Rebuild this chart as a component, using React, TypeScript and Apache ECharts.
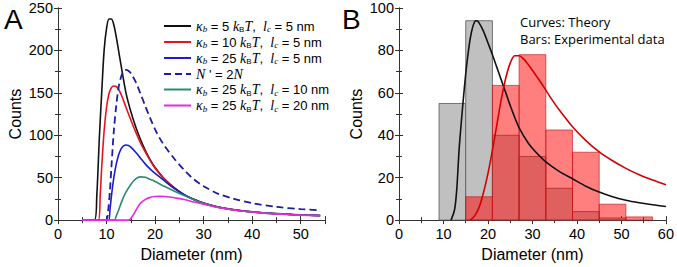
import React, { useEffect, useRef } from "react";
import * as echarts from "echarts";

// ---------- Panel A: theory curves ----------
const aBlackX = [5, 7.5, 8, 8.5, 9, 9.5, 10, 10.5, 11, 11.5, 12, 12.5, 13, 14, 15, 16, 17, 18, 19, 20, 22, 24, 26, 28, 30, 33, 36, 40, 45, 50, 54];
const aBlackY = [0, 0, 30, 95, 150, 200, 226, 237, 237, 230, 216, 199, 182, 150, 128, 110, 95, 82, 71, 62, 48, 38, 30, 24.5, 20, 15.5, 12.5, 9.8, 7.6, 6.2, 5.5];

const aRedX = [5, 8.3, 8.7, 9, 9.5, 10, 10.5, 11, 11.5, 12, 12.5, 13, 13.5, 14, 15, 16, 17, 18, 19, 20, 22, 24, 26, 28, 30, 33, 36, 40, 45, 50, 54];
const aRedY = [0, 0, 30, 62, 105, 133, 149, 156, 158, 157.5, 154, 148, 141, 133, 118, 104, 91, 80, 70, 61, 47.5, 37.5, 29.5, 24, 19.7, 15.3, 12.3, 9.7, 7.5, 6.1, 5.4];

const aBlueX = [5, 10.4, 10.7, 11, 11.5, 12, 12.5, 13, 13.5, 14, 14.5, 15, 16, 17, 18, 19, 20, 22, 24, 26, 28, 30, 33, 36, 40, 45, 50, 54];
const aBlueY = [0, 0, 12, 28, 50, 66, 77, 84, 87.5, 88.5, 88, 86, 80, 73, 66, 60, 55, 46, 37, 30, 24.3, 19.8, 15.2, 12.2, 9.6, 7.4, 6.0, 5.3];

const aDashX = [5, 9.8, 10.3, 10.7, 11, 11.5, 12, 12.5, 13, 13.5, 14, 14.5, 15, 16, 17, 18, 19, 20, 21, 22, 24, 26, 28, 30, 33, 36, 40, 45, 50, 54];
const aDashY = [0, 0, 10, 35, 62, 105, 135, 157, 169, 175, 177, 176, 173, 163, 149, 134, 120, 107, 96, 87, 72, 59, 48, 40, 31, 25.5, 20, 15.5, 13, 11.5];

const aTealX = [5, 11.6, 12, 12.5, 13, 13.5, 14, 15, 16, 17, 18, 19, 20, 22, 24, 26, 28, 30, 33, 36, 40, 45, 50, 54];
const aTealY = [0, 0, 5, 12, 20, 27, 33, 42, 48.5, 51, 50.5, 48, 45.5, 39.5, 34, 29, 24, 19.7, 15.2, 12.2, 9.6, 7.4, 6.0, 5.3];

const aMagX = [5, 14.6, 15, 15.5, 16, 16.5, 17, 18, 19, 20, 21, 22, 23, 24, 26, 28, 30, 33, 36, 40, 45, 50, 54];
const aMagY = [0, 0, 2, 6, 11, 16, 20, 24.5, 26.8, 27.8, 28, 27.8, 27.2, 26.3, 24.2, 21.3, 18.7, 14.8, 12, 9.5, 7.3, 5.9, 5.2];

// ---------- Panel B: histograms (bin start, bin end, count) ----------
const binStarts = [9, 15, 21, 27, 33, 39, 45, 51];
const binEnds = [15, 21, 27, 33, 39, 45, 51, 57];
const grayCounts = [55, 94, 40, 30, 15, 4, 1, 0];
const redCounts = [0, 11, 63.5, 78, 42.5, 32, 7.5, 1.5];

const bBlackX = [11.7, 12.5, 13, 13.5, 14, 14.5, 15, 15.5, 16, 16.5, 17, 17.5, 18, 19, 20, 21, 22, 23, 24, 25, 26, 27, 29, 31, 33, 36, 39, 42, 45, 48, 51, 54, 57, 60];
const bBlackY = [0, 5, 15, 33, 46, 58, 69, 78, 85.5, 90.5, 93.5, 94, 93, 89, 83.5, 78, 72, 66, 60, 54, 48.5, 43.5, 36.5, 31.5, 27.5, 23, 19.5, 16, 13.2, 11, 9.4, 8.2, 7.2, 6.4];

const bRedX = [16, 17, 18, 19, 20, 21, 22, 23, 24, 25, 26, 27, 28, 29, 30, 32, 34, 36, 39, 42, 45, 48, 51, 54, 57, 60];
const bRedY = [0, 2, 6, 13, 22, 33, 45, 57, 67, 74, 77.5, 77.5, 76, 73.5, 70.5, 64.5, 58, 52, 44, 37.5, 32.2, 28, 24.4, 21.4, 18.9, 16.7];

const aXTicks = { min: 0, max: 55, interval: 10 };
const aYTicks = { min: 0, max: 250, interval: 50 };
const bXTicks = { min: 0, max: 60, interval: 10 };
const bYTicks = { min: 0, max: 100, interval: 20 };

const SANS = '"Liberation Sans", Arial, sans-serif';
const SERIF = '"Liberation Serif", "DejaVu Serif", serif';

const pairs = (xs: number[], ys: number[]) => xs.map((x, i) => [x, ys[i]]);

const legendText: Record<string, string> = {
  k5: "{it|κ}{sub|b}{t| = 5 }{it|k}{subr|B}{it|T}{t|,  }{it|l}{sub|c}{t| = 5 nm}",
  k10: "{it|κ}{sub|b}{t| = 10 }{it|k}{subr|B}{it|T}{t|,  }{it|l}{sub|c}{t| = 5 nm}",
  k25: "{it|κ}{sub|b}{t| = 25 }{it|k}{subr|B}{it|T}{t|,  }{it|l}{sub|c}{t| = 5 nm}",
  n2: "{it|N}{t| ' = 2}{it|N}",
  k25l10: "{it|κ}{sub|b}{t| = 25 }{it|k}{subr|B}{it|T}{t|,  }{it|l}{sub|c}{t| = 10 nm}",
  k25l20: "{it|κ}{sub|b}{t| = 25 }{it|k}{subr|B}{it|T}{t|,  }{it|l}{sub|c}{t| = 20 nm}",
};

const AXIS_COLOR = "#333";

function xAx(grid: number, t: any, pos: "bottom" | "top", withLabels: boolean) {
  return {
    type: "value",
    gridIndex: grid,
    position: pos,
    min: t.min,
    max: t.max,
    interval: t.interval,
    axisLine: { show: true, lineStyle: { color: AXIS_COLOR, width: 1 } },
    axisTick: { show: true, inside: true, length: 4, lineStyle: { color: AXIS_COLOR } },
    minorTick: { show: true, splitNumber: 2, length: 3, lineStyle: { color: AXIS_COLOR } },
    splitLine: { show: false },
    axisLabel: {
      show: withLabels,
      showMaxLabel: t.max % t.interval === 0,
      margin: 6,
      color: "#000",
      fontFamily: SANS,
      fontSize: 14.5,
    },
    name: withLabels ? "Diameter (nm)" : "",
    nameLocation: "middle",
    nameGap: 25,
    nameTextStyle: { color: "#000", fontFamily: SANS, fontSize: 16 },
  };
}

function yAx(grid: number, t: any, pos: "left" | "right", withLabels: boolean) {
  return {
    type: "value",
    gridIndex: grid,
    position: pos,
    min: t.min,
    max: t.max,
    interval: t.interval,
    axisLine: { show: true, lineStyle: { color: AXIS_COLOR, width: 1 } },
    axisTick: { show: true, inside: true, length: 4, lineStyle: { color: AXIS_COLOR } },
    minorTick: { show: true, splitNumber: 2, length: 3, lineStyle: { color: AXIS_COLOR } },
    splitLine: { show: false },
    axisLabel: {
      show: withLabels,
      margin: 5,
      color: "#000",
      fontFamily: SANS,
      fontSize: 14.5,
    },
    name: withLabels ? "Counts" : "",
    nameLocation: "middle",
    nameGap: 35,
    nameTextStyle: { color: "#000", fontFamily: SANS, fontSize: 16 },
  };
}

function lineSeries(name: string, xs: number[], ys: number[], color: string, xi: number, dashed = false) {
  return {
    type: "line",
    name,
    xAxisIndex: xi,
    yAxisIndex: xi,
    data: pairs(xs, ys),
    symbol: "none",
    smooth: 0.3,
    lineStyle: { color, width: dashed ? 1.8 : 1.6, type: dashed ? [7, 4] : "solid" },
    itemStyle: { color },
    z: 3,
  };
}

function barSeries(counts: number[], fill: string, stroke: string) {
  return {
    type: "custom",
    xAxisIndex: 2,
    yAxisIndex: 2,
    data: binStarts.map((s, i) => [s, binEnds[i], counts[i]]).filter((d) => d[2] > 0),
    encode: { x: [0, 1], y: 2 },
    renderItem: (params: any, api: any) => {
      const p0 = api.coord([api.value(0), api.value(2)]);
      const p1 = api.coord([api.value(1), 0]);
      return {
        type: "rect",
        shape: { x: p0[0], y: p0[1], width: p1[0] - p0[0], height: p1[1] - p0[1] },
        style: { fill, stroke, lineWidth: 0.8 },
      };
    },
    z: 2,
  };
}

export default function App() {
  const ref = useRef<HTMLDivElement>(null);
  useEffect(() => {
    document.body.style.margin = "0";
    if (!ref.current) return;
    const chart = echarts.init(ref.current, null, { renderer: "svg" });
    chart.setOption({
      animation: false,
      backgroundColor: "#fff",
      grid: [
        { left: 58, top: 8, width: 267, height: 214 },
        { left: 399, top: 8, width: 269, height: 214 },
      ],
      xAxis: [
        xAx(0, aXTicks, "bottom", true),
        xAx(0, aXTicks, "top", false),
        xAx(1, bXTicks, "bottom", true),
        xAx(1, bXTicks, "top", false),
      ],
      yAxis: [
        yAx(0, aYTicks, "left", true),
        yAx(0, aYTicks, "right", false),
        yAx(1, bYTicks, "left", true),
        yAx(1, bYTicks, "right", false),
      ],
      legend: {
        data: ["k5", "k10", "k25", "n2", "k25l10", "k25l20"],
        orient: "vertical",
        left: 163,
        top: 19,
        itemWidth: 27,
        itemHeight: 10,
        itemGap: 1.5,
        padding: 0,
        itemStyle: { opacity: 0 },
        formatter: (name: string) => legendText[name],
        textStyle: {
          color: "#000",
          rich: {
            it: { fontFamily: SERIF, fontStyle: "italic", fontSize: 14, lineHeight: 15, color: "#000" },
            sub: { fontFamily: SERIF, fontStyle: "italic", fontSize: 9, lineHeight: 7, verticalAlign: "bottom", color: "#000" },
            subr: { fontFamily: SANS, fontSize: 8, lineHeight: 7, verticalAlign: "bottom", color: "#000" },
            t: { fontFamily: SANS, fontSize: 13, lineHeight: 15, color: "#000" },
          },
        },
      },
      graphic: [
        { type: "text", left: 4, top: 5, style: { text: "A", fontFamily: SANS, fontSize: 28, fill: "#000" } },
        { type: "text", left: 342, top: 5, style: { text: "B", fontFamily: SANS, fontSize: 28, fill: "#000" } },
        { type: "text", left: 520, top: 15, style: { text: "Curves: Theory", fontFamily: '"Open Sans", sans-serif', fontSize: 13, fill: "#000" } },
        { type: "text", left: 520, top: 32, style: { text: "Bars: Experimental data", fontFamily: '"Open Sans", sans-serif', fontSize: 13, fill: "#000" } },
      ],
      series: [
        lineSeries("k5", aBlackX, aBlackY, "#111111", 0),
        lineSeries("k10", aRedX, aRedY, "#e8141c", 0),
        lineSeries("k25", aBlueX, aBlueY, "#1c1cd0", 0),
        lineSeries("n2", aDashX, aDashY, "#1c1ca8", 0, true),
        lineSeries("k25l10", aTealX, aTealY, "#2a8a72", 0),
        lineSeries("k25l20", aMagX, aMagY, "#e828e0", 0),
        barSeries(grayCounts, "#c0c0c0", "#555555"),
        barSeries(redCounts, "rgba(255,0,0,0.5)", "rgba(200,20,20,0.8)"),
        lineSeries("bBlack", bBlackX, bBlackY, "#111111", 2),
        lineSeries("bRed", bRedX, bRedY, "#d40000", 2),
      ],
    });
    return () => chart.dispose();
  }, []);
  return <div ref={ref} style={{ width: 677, height: 267 }} />;
}
